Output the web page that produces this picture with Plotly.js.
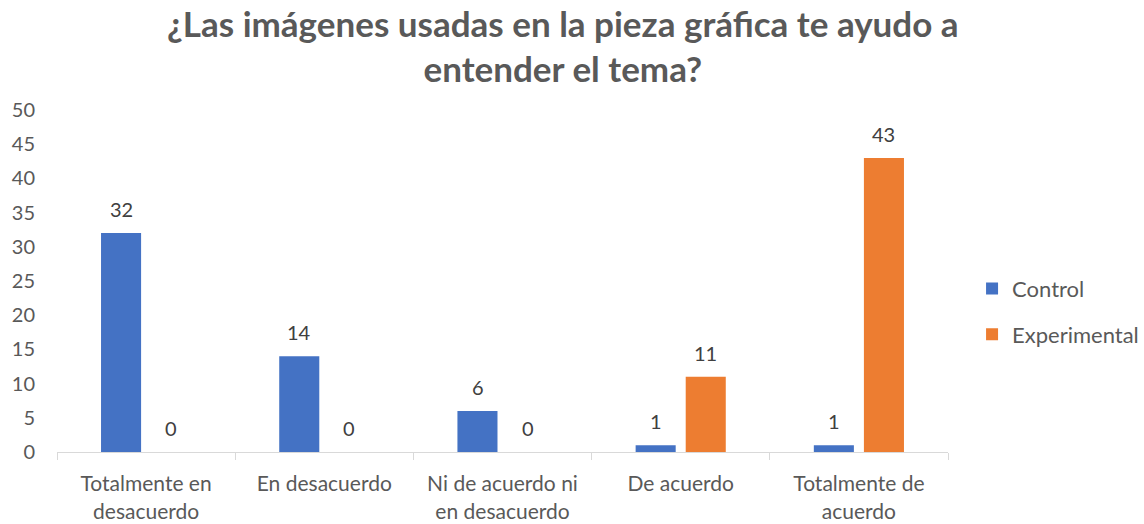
<!DOCTYPE html>
<html><head><meta charset="utf-8">
<script src="https://cdn.plot.ly/plotly-3.0.1.min.js"></script>
<style>html,body{margin:0;padding:0;background:#fff}#chart{width:1144px;height:524px}</style>
</head><body><div id="chart"></div>
<script>
const categories = ["Totalmente en<br>desacuerdo", "En desacuerdo", "Ni de acuerdo ni<br>en desacuerdo", "De acuerdo", "Totalmente de<br>acuerdo"];
const controlValues = [32, 14, 6, 1, 1];
const experimentalValues = [0, 0, 0, 11, 43];
const yTicks = [0, 5, 10, 15, 20, 25, 30, 35, 40, 45, 50];

const font = "Lato, 'Open Sans', sans-serif";
const txt = "#595959";
const labelColor = "#404040";

const traces = [
  {type: "bar", name: "Control", x: categories, y: controlValues, marker: {color: "#4472C4"},
   hoverinfo: "x+y", legendgroup: "a"},
  {type: "bar", name: "Experimental", x: categories, y: experimentalValues, marker: {color: "#ED7D31"},
   hoverinfo: "x+y", legendgroup: "b"}
];

// data labels placed above each bar through the axes
const annotations = [];
[[controlValues, -25], [experimentalValues, 25]].forEach(([vals, dx]) => {
  vals.forEach((v, i) => {
    annotations.push({x: categories[i], y: v, xref: "x", yref: "y", text: String(v), showarrow: false,
      xshift: dx, yshift: 24, yanchor: "middle", font: {family: font, size: 20, color: labelColor}});
  });
});

const layout = {
  width: 1144, height: 524,
  margin: {l: 57, r: 196, t: 110, b: 72},
  paper_bgcolor: "#fff", plot_bgcolor: "#fff",
  font: {family: font, size: 20, color: txt},
  title: {text: "<b>¿Las imágenes usadas en la pieza gráfica te ayudo a<br>entender el tema?</b>",
          font: {family: font, size: 35, color: txt}, x: 0.492, xanchor: "center",
          yref: "container", y: 0.93, yanchor: "top"},
  barmode: "group", bargap: 0.438, bargroupgap: 0.2,
  xaxis: {type: "category", showline: true, linecolor: "#d9d9d9", linewidth: 1,
          ticks: "outside", tickson: "boundaries", ticklen: 7, tickcolor: "#d9d9d9",
          ticklabelstandoff: 13, automargin: false,
          tickfont: {family: font, size: 21, color: txt}, showgrid: false, zeroline: false},
  yaxis: {range: [0, 50], tickvals: yTicks, showgrid: false, zeroline: false, showline: false,
          ticklabelstandoff: 21, automargin: false, tickfont: {family: font, size: 20, color: txt}},
  legend: {xref: "container", x: 0.8497, xanchor: "left", y: 0.41, yanchor: "middle",
           traceorder: "grouped", tracegroupgap: 14,
           font: {family: font, size: 22, color: txt}, itemwidth: 30},
  annotations: annotations,
  showlegend: true
};
Plotly.newPlot("chart", traces, layout, {displayModeBar: false});
</script></body></html>
